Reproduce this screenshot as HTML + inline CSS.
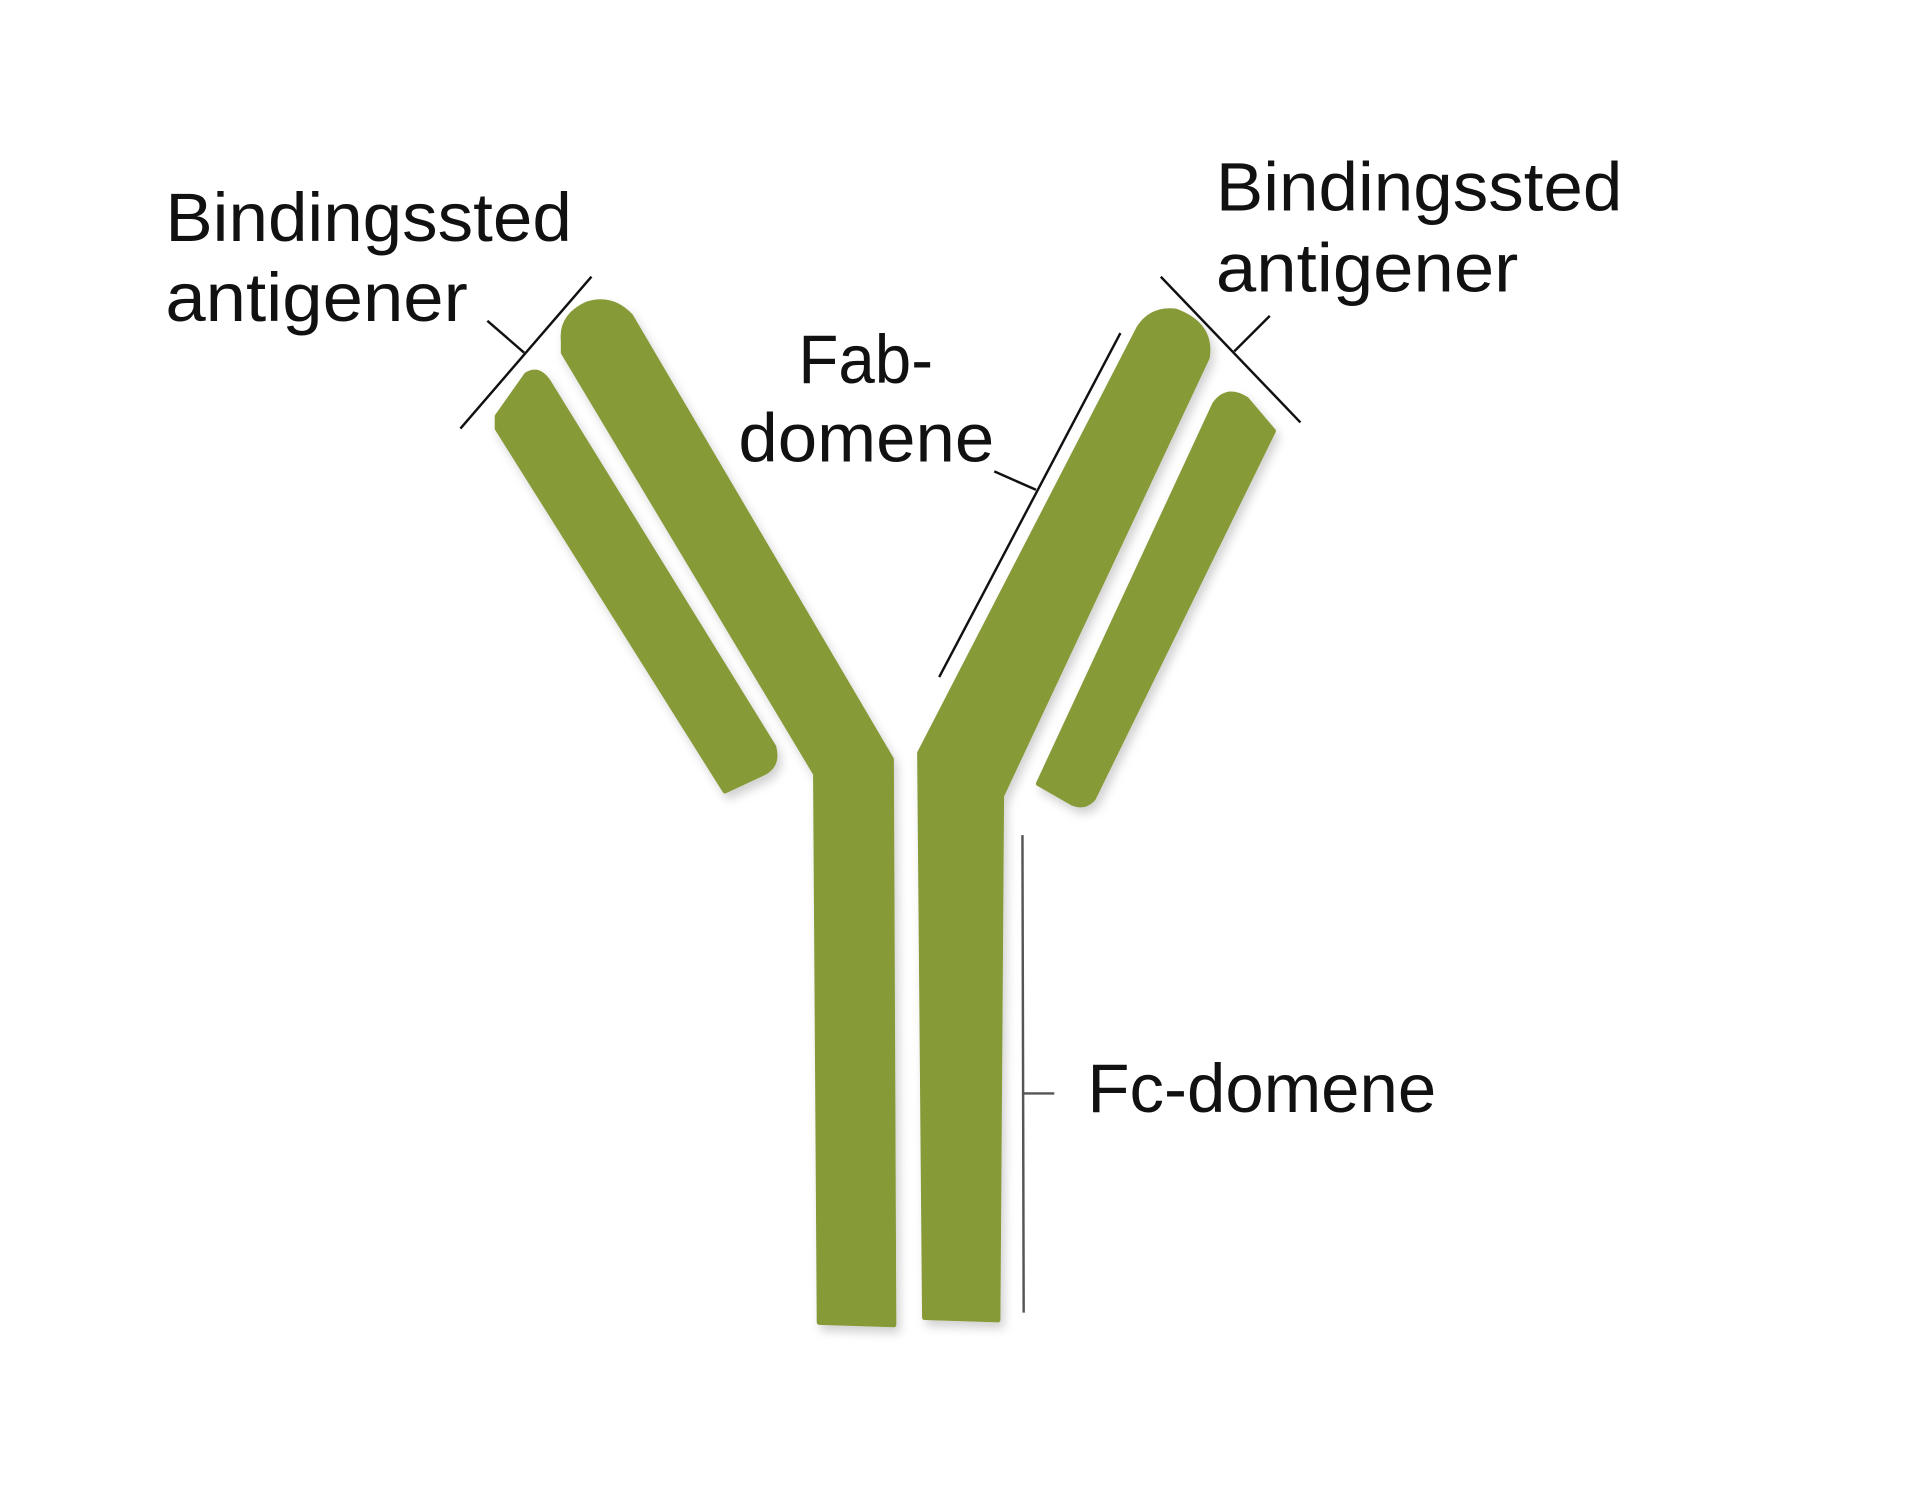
<!DOCTYPE html>
<html><head><meta charset="utf-8"><style>
html,body{margin:0;padding:0;background:#fff;}
svg{display:block;}
text{font-family:"Liberation Sans",sans-serif;font-size:56px;fill:#111;}
</style></head><body>
<svg width="1920" height="1491" viewBox="0 0 1568 1217.7" xmlns="http://www.w3.org/2000/svg">
<defs><filter id="sh" x="-10%" y="-10%" width="130%" height="130%"><feDropShadow dx="3" dy="5" stdDeviation="4" flood-color="#000" flood-opacity="0.18"/></filter></defs>
<g fill="#869a37" filter="url(#sh)" stroke="#869a37" stroke-linejoin="round" stroke-width="4">
<path d="M460,278 Q458,258 480,248 Q500,242 515,258 L728,620 L730,1082 L669,1080 L666,632 L460,288 Z"/>
<path d="M406,340 L430,306 Q440,300 448,312 L632,610 Q636,626 622,632 L592,646 L406,350 Z"/>
<path d="M930,268 Q940,252 960,254 Q990,265 986,292 L818,650 L815,1078 L755,1076 L751,615 Z"/>
<path d="M992,330 Q1002,316 1018,326 L1040,352 L893,652 Q886,660 876,656 L848,640 Z"/>
</g>
<g stroke="#111" stroke-width="2" fill="none">
<line x1="376" y1="350" x2="483" y2="226"/>
<line x1="398" y1="262" x2="428" y2="288"/>
<line x1="948" y1="226" x2="1062" y2="345"/>
<line x1="1037" y1="258" x2="1008" y2="287"/>
<line x1="915" y1="272" x2="767" y2="553"/>
<line x1="812" y1="385" x2="846" y2="400"/>
<line x1="835" y1="682" x2="836" y2="1072" stroke="#555"/>
<line x1="836" y1="893" x2="861" y2="893" stroke="#555"/>
</g>
<text x="135" y="197" textLength="332" lengthAdjust="spacingAndGlyphs">Bindingssted</text>
<text x="135" y="262" textLength="247" lengthAdjust="spacingAndGlyphs">antigener</text>
<text x="993" y="172" textLength="332" lengthAdjust="spacingAndGlyphs">Bindingssted</text>
<text x="993" y="238" textLength="247" lengthAdjust="spacingAndGlyphs">antigener</text>
<text x="652" y="313" textLength="110" lengthAdjust="spacingAndGlyphs">Fab-</text>
<text x="603" y="377" textLength="209" lengthAdjust="spacingAndGlyphs">domene</text>
<text x="888" y="908" textLength="285" lengthAdjust="spacingAndGlyphs">Fc-domene</text>
</svg>
</body></html>
